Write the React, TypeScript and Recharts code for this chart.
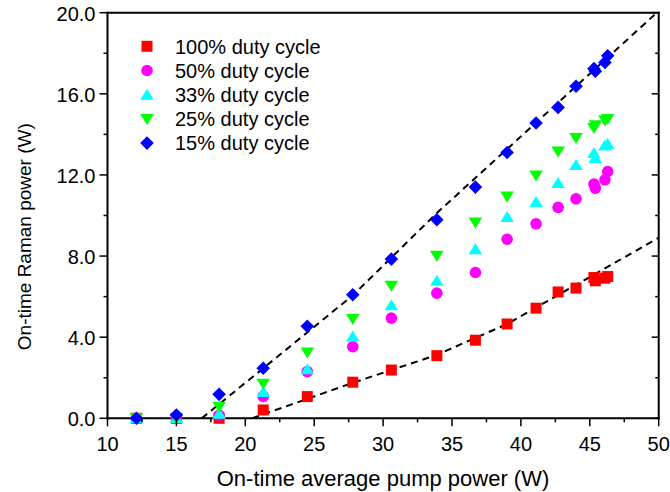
import React from "react";
import { ScatterChart, Scatter, XAxis, YAxis, Legend } from "recharts";

// on-time average pump power (W), shared by all five duty cycles
const pumpPower = [12.1, 15.0, 18.1, 21.3, 24.5, 27.8, 30.6, 33.9, 36.7, 39.0, 41.1, 42.7, 44.0, 45.3, 45.4, 46.1, 46.3];

// on-time Raman power (W)
const duty100 = [0, 0, 0, 0.41, 1.07, 1.78, 2.38, 3.09, 3.85, 4.65, 5.43, 6.23, 6.42, 6.94, 6.78, 6.91, 6.99];
const duty50 = [0, 0, 0.15, 1.08, 2.3, 3.53, 4.94, 6.17, 7.19, 8.83, 9.59, 10.4, 10.82, 11.55, 11.35, 11.76, 12.17];
const duty33 = [0, 0, 0.22, 1.3, 2.42, 4.03, 5.58, 6.78, 8.34, 9.92, 10.66, 11.6, 12.49, 13.08, 12.83, 13.45, 13.52];
const duty25 = [0, 0, 0.57, 1.7, 3.24, 4.9, 6.53, 8.01, 9.65, 10.94, 11.97, 13.16, 13.82, 14.31, 14.45, 14.69, 14.76];
const duty15 = [0, 0.16, 1.18, 2.47, 4.54, 6.09, 7.85, 9.79, 11.4, 13.11, 14.56, 15.33, 16.37, 17.24, 17.11, 17.55, 17.88];

// dashed fit curves
const fit15X = [16.84, 27.8, 33.9, 49.7];
const fit15Y = [0, 6.06, 10.12, 19.9];
const fit100X = [20.5, 27.8, 33.8, 39.0, 50];
const fit100Y = [0, 1.75, 3.1, 4.65, 8.9];

const xMajor = [10, 15, 20, 25, 30, 35, 40, 45, 50];
const xMinor = [12.5, 17.5, 22.5, 27.5, 32.5, 37.5, 42.5, 47.5];
const yMajor = [0, 4, 8, 12, 16, 20];
const yMinor = [2, 6, 10, 14, 18];

const font = "'Liberation Sans', Arial, sans-serif";

const toPoints = (xs: number[], ys: number[]) => xs.map((x, i) => ({ x, y: ys[i] }));

const series = [
  { name: "100% duty cycle", values: duty100, color: "#ff0000", kind: "square" },
  { name: "50% duty cycle", values: duty50, color: "#ff00ff", kind: "circle" },
  { name: "33% duty cycle", values: duty33, color: "#00ffff", kind: "up" },
  { name: "25% duty cycle", values: duty25, color: "#00ff00", kind: "down" },
  { name: "15% duty cycle", values: duty15, color: "#0000ff", kind: "diamond" },
];

function Marker({ kind, cx, cy, color }: { kind: string; cx: number; cy: number; color: string }) {
  switch (kind) {
    case "square":
      return <rect x={cx - 5.5} y={cy - 5.5} width={11} height={11} fill={color} />;
    case "circle":
      return <circle cx={cx} cy={cy} r={5.8} fill={color} />;
    case "up":
      return <path d={`M${cx},${cy - 6} L${cx + 6.8},${cy + 5} L${cx - 6.8},${cy + 5} Z`} fill={color} />;
    case "down":
      return <path d={`M${cx},${cy + 6} L${cx + 6.8},${cy - 5} L${cx - 6.8},${cy - 5} Z`} fill={color} />;
    default:
      return <path d={`M${cx},${cy - 6.8} L${cx + 6.8},${cy} L${cx},${cy + 6.8} L${cx - 6.8},${cy} Z`} fill={color} />;
  }
}

const BottomTick = ({ x, y, payload }: any) => {
  const major = xMajor.includes(payload.value);
  return (
    <g>
      <line x1={x} x2={x} y1={y} y2={y + (major ? 8 : 4)} stroke="#000" strokeWidth={1.5} />
      {major && (
        <text x={x} y={y + 32.5} textAnchor="middle" fontSize={20} fontFamily={font} fill="#000">
          {payload.value}
        </text>
      )}
    </g>
  );
};

const TopTick = ({ x, y, payload }: any) => {
  const major = xMajor.includes(payload.value);
  return <line x1={x} x2={x} y1={y} y2={y + (major ? 7 : 3.5)} stroke="#000" strokeWidth={1.5} />;
};

const LeftTick = ({ x, y, payload }: any) => {
  const major = yMajor.includes(payload.value);
  return (
    <g>
      <line x1={x - (major ? 8 : 4)} x2={x} y1={y} y2={y} stroke="#000" strokeWidth={1.5} />
      {major && (
        <text x={x - 12} y={y} dy="0.4em" textAnchor="end" fontSize={20} fontFamily={font} fill="#000">
          {payload.value.toFixed(1)}
        </text>
      )}
    </g>
  );
};

const RightTick = ({ x, y, payload }: any) => {
  const major = yMajor.includes(payload.value);
  return <line x1={x - (major ? 7 : 3.5)} x2={x} y1={y} y2={y} stroke="#000" strokeWidth={1.5} />;
};

const LegendBox = () => (
  <svg width={200} height={125}>
    {series.map((s, i) => (
      <g key={s.name}>
        <Marker kind={s.kind} cx={12} cy={12.3 + i * 24.2} color={s.color} />
        <text x={40} y={12.3 + i * 24.2} dy="0.36em" fontSize={20} fontFamily={font} fill="#000">
          {s.name}
        </text>
      </g>
    ))}
  </svg>
);

const axisLine = { stroke: "#000", strokeWidth: 2, strokeLinecap: "square" as const };

export default function App() {
  return (
    <div style={{ position: "absolute", left: 0, top: 0, background: "#fff" }}>
      <ScatterChart width={670} height={492} margin={{ top: 12.7, right: 11.3, bottom: 0, left: 0.5 }}>
        <XAxis
          dataKey="x"
          type="number"
          domain={[10, 50]}
          ticks={[...xMajor, ...xMinor]}
          interval={0}
          height={73.7}
          axisLine={axisLine}
          tickLine={false}
          tickSize={0}
          tickMargin={0}
          tick={BottomTick}
          label={{
            content: () => (
              <text x={383} y={485.5} textAnchor="middle" fontSize={22} fontFamily={font} fill="#000">
                On-time average pump power (W)
              </text>
            ),
          }}
        />
        <YAxis
          dataKey="y"
          type="number"
          domain={[0, 20]}
          ticks={[...yMajor, ...yMinor]}
          interval={0}
          width={107}
          axisLine={axisLine}
          tickLine={false}
          tickSize={0}
          tickMargin={0}
          tick={LeftTick}
          label={{
            content: () => (
              <text transform="translate(30.7,236.7) rotate(-90)" textAnchor="middle" fontSize={19} fontFamily={font} fill="#000">
                On-time Raman power (W)
              </text>
            ),
          }}
        />
        <XAxis
          xAxisId="top"
          orientation="top"
          mirror
          type="number"
          domain={[10, 50]}
          allowDataOverflow
          ticks={[...xMajor, ...xMinor]}
          interval={0}
          axisLine={axisLine}
          tickLine={false}
          tickSize={0}
          tickMargin={0}
          tick={TopTick}
        />
        <YAxis
          yAxisId="right"
          orientation="right"
          mirror
          type="number"
          domain={[0, 20]}
          allowDataOverflow
          ticks={[...yMajor, ...yMinor]}
          interval={0}
          axisLine={axisLine}
          tickLine={false}
          tickSize={0}
          tickMargin={0}
          tick={RightTick}
        />
        <Legend
          layout="vertical"
          align="center"
          verticalAlign="middle"
          wrapperStyle={{ top: 34, left: 135, width: 200, height: 125 }}
          content={() => <LegendBox />}
        />
        <Scatter
          data={toPoints(fit15X, fit15Y)}
          line={{ stroke: "#000", strokeWidth: 2, strokeDasharray: "7 5" }}
          lineType="joint"
          shape={() => <g />}
          legendType="none"
          isAnimationActive={false}
        />
        <Scatter
          data={toPoints(fit100X, fit100Y)}
          line={{ stroke: "#000", strokeWidth: 2, strokeDasharray: "7 5" }}
          lineType="joint"
          shape={() => <g />}
          legendType="none"
          isAnimationActive={false}
        />
        {series.map((s) => (
          <Scatter
            key={s.name}
            name={s.name}
            data={toPoints(pumpPower, s.values)}
            fill={s.color}
            shape={(p: any) => <Marker kind={s.kind} cx={p.cx} cy={p.cy} color={s.color} />}
            isAnimationActive={false}
          />
        ))}
      </ScatterChart>
    </div>
  );
}
